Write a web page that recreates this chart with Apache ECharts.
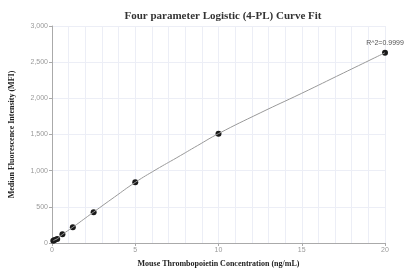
<!DOCTYPE html>
<html>
<head>
<meta charset="utf-8">
<script src="https://cdn.jsdelivr.net/npm/echarts@6/dist/echarts.min.js"></script>
<style>
html, body { margin: 0; padding: 0; background: #fff; }
#chart { width: 404px; height: 273px; }
</style>
</head>
<body>
<div id="chart"></div>
<script>
// standards: concentration (ng/mL) and measured MFI
const concentrations = [0.078, 0.156, 0.3125, 0.625, 1.25, 2.5, 5, 10, 20];
const mfiValues = [30, 42, 55, 120, 217, 424, 839, 1512, 2630];
// fitted 4-PL curve
const curveX = [0.078, 0.156, 0.3125, 0.625, 1.25, 2.5, 3.75, 5, 6.25, 7.5, 8.75, 10, 12.5, 15, 17.5, 20];
const curveY = [30, 42, 58, 118, 218, 428, 635, 838, 1015, 1180, 1348, 1512, 1798, 2070, 2350, 2630];
const xTicks = [0, 5, 10, 15, 20];
const yTicks = [0, 500, 1000, 1500, 2000, 2500, 3000];
const fitLabel = 'R^2=0.9999';

const axisGray = '#9a9a9a';
const gridColor = '#eceef6';
const serif = '"Liberation Serif", "DejaVu Serif", serif';

const chart = echarts.init(document.getElementById('chart'));

const points = concentrations.map((c, i) => [c, mfiValues[i]]);
const curve = curveX.map((c, i) => [c, curveY[i]]);

chart.setOption({
    animation: false,
    title: {
        text: 'Four parameter Logistic (4-PL) Curve Fit',
        left: 218,
        textAlign: 'center',
        top: 6,
        textStyle: { fontFamily: serif, fontSize: 11, fontWeight: 'bold', color: '#333' }
    },
    grid: { left: 52, right: 19, top: 26, bottom: 30 },
    xAxis: {
        type: 'value',
        min: xTicks[0],
        max: xTicks[xTicks.length - 1],
        interval: 5,
        name: 'Mouse Thrombopoietin Concentration (ng/mL)',
        nameLocation: 'middle',
        nameGap: 17,
        nameTextStyle: { fontFamily: serif, fontSize: 8, fontWeight: 'bold', color: '#222' },
        axisLine: { lineStyle: { color: '#aaa' } },
        axisTick: { show: true, length: 3, lineStyle: { color: '#aaa' } },
        axisLabel: { fontSize: 7, color: axisGray, margin: 4 },
        splitLine: { show: true, lineStyle: { color: gridColor } },
        minorTick: { show: false, splitNumber: 5 },
        minorSplitLine: { show: true, lineStyle: { color: gridColor } }
    },
    yAxis: {
        type: 'value',
        min: yTicks[0],
        max: yTicks[yTicks.length - 1],
        interval: 500,
        name: 'Median Fluorescence Intensity (MFI)',
        nameLocation: 'middle',
        nameGap: 36,
        nameTextStyle: { fontFamily: serif, fontSize: 8, fontWeight: 'bold', color: '#222' },
        axisLine: { show: true, lineStyle: { color: '#aaa' } },
        axisTick: { show: true, length: 3, lineStyle: { color: '#aaa' } },
        axisLabel: {
            fontSize: 7, color: axisGray, margin: 4,
            formatter: v => v.toLocaleString('en-US')
        },
        splitLine: { show: true, lineStyle: { color: gridColor } }
    },
    series: [
        {
            type: 'line',
            data: curve,
            smooth: true,
            showSymbol: false,
            lineStyle: { color: '#999', width: 1 }
        },
        {
            type: 'scatter',
            data: points,
            symbol: 'circle',
            symbolSize: 6,
            itemStyle: { color: '#1a1a1a', opacity: 1 },
            label: {
                show: true,
                position: 'top',
                distance: 3,
                fontSize: 7,
                color: '#555',
                formatter: p => p.dataIndex === points.length - 1 ? fitLabel : ''
            }
        }
    ]
});
</script>
</body>
</html>
